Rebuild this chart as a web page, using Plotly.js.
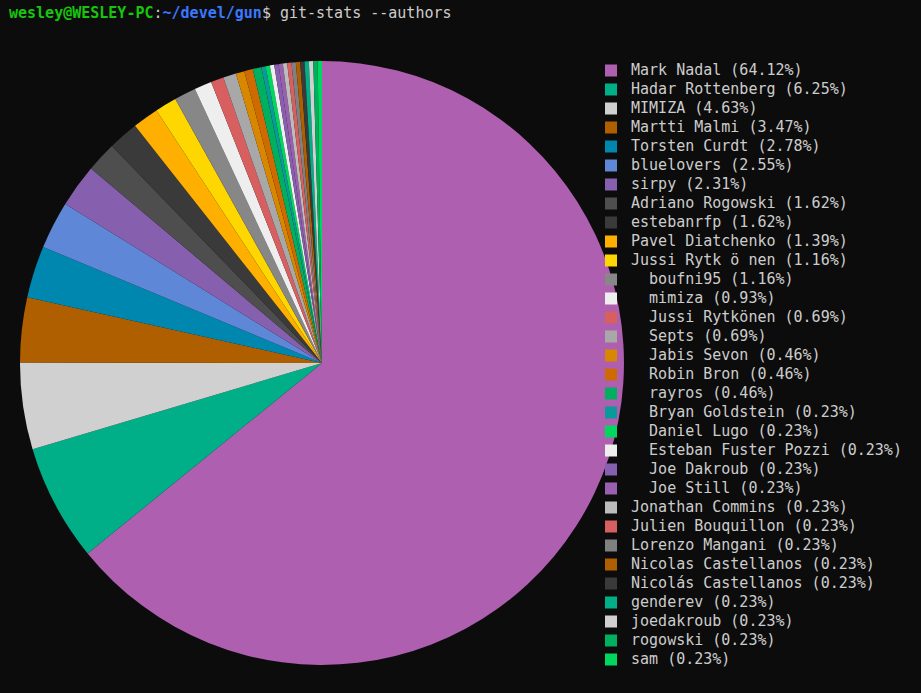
<!DOCTYPE html>
<html>
<head>
<meta charset="utf-8">
<script src="https://cdn.plot.ly/plotly-3.0.1.min.js"></script>
<style>
html,body{margin:0;padding:0;background:#0C0C0C;}
#chart{width:921px;height:693px;}
</style>
</head>
<body>
<div id="chart"></div>
<script>
// Authors (in pie order, clockwise from 12 o'clock)
const authors = [
  "Mark Nadal", "Hadar Rottenberg", "MIMIZA", "Martti Malmi", "Torsten Curdt",
  "bluelovers", "sirpy", "Adriano Rogowski", "estebanrfp", "Pavel Diatchenko",
  "Jussi Rytk ö nen", "boufni95", "mimiza", "Jussi Rytkönen", "Septs",
  "Jabis Sevon", "Robin Bron", "rayros", "Bryan Goldstein", "Daniel Lugo",
  "Esteban Fuster Pozzi", "Joe Dakroub", "Joe Still", "Jonathan Commins",
  "Julien Bouquillon", "Lorenzo Mangani", "Nicolas Castellanos", "Nicolás Castellanos",
  "genderev", "joedakroub", "rogowski", "sam"
];
// Share of commits (%)
const shares = [
  64.12, 6.25, 4.63, 3.47, 2.78,
  2.55, 2.31, 1.62, 1.62, 1.39,
  1.16, 1.16, 0.93, 0.69, 0.69,
  0.46, 0.46, 0.46, 0.23, 0.23,
  0.23, 0.23, 0.23, 0.23,
  0.23, 0.23, 0.23, 0.23,
  0.23, 0.23, 0.23, 0.23
];
// Legend lines drawn indented in the terminal output
const indented = [
  "boufni95", "mimiza", "Jussi Rytkönen", "Septs", "Jabis Sevon", "Robin Bron",
  "rayros", "Bryan Goldstein", "Daniel Lugo", "Esteban Fuster Pozzi", "Joe Dakroub", "Joe Still"
];
const sliceColors = [
  "#AF5FAF", "#00AF87", "#D0D0D0", "#AF5F00", "#0087AF",
  "#5F87D7", "#875FAF", "#4E4E4E", "#3A3A3A", "#FFAF00",
  "#FFD700", "#878787", "#EEEEEE", "#D75F5F", "#A8A8A8",
  "#D78700", "#CF6A00", "#00AF5F", "#0A9A9A", "#00D75F",
  "#EEEEEE", "#875FAF", "#9B5FAF", "#BCBCBC",
  "#D75F5F", "#808080", "#AF5F00", "#3A3A3A",
  "#00AF87", "#D0D0D0", "#00AF5F", "#00D75F"
];

const labels = authors.map((a, i) =>
  '<span style="font-size:15px">' + (indented.includes(a) ? '\u00A0\u00A0' : '') +
  a + ' (' + shares[i].toFixed(2) + '%)</span>');

const trace = {
  type: 'pie',
  labels: labels,
  values: shares,
  sort: false,
  direction: 'clockwise',
  rotation: 0,
  textinfo: 'none',
  hoverinfo: 'label',
  marker: { colors: sliceColors, line: { width: 0 } },
  domain: { x: [0.0217, 0.6775], y: [0.0404, 0.912] }
};

const layout = {
  width: 921, height: 693,
  paper_bgcolor: '#0C0C0C',
  plot_bgcolor: '#0C0C0C',
  margin: { l: 0, r: 0, t: 0, b: 0 },
  showlegend: true,
  legend: {
    x: 0.6417, y: 0.9192, xanchor: 'left', yanchor: 'top',
    bgcolor: 'rgba(0,0,0,0)',
    font: { family: 'DejaVu Sans Mono, monospace', size: 12.3, color: '#CCCCCC' },
    traceorder: 'normal'
  },
  annotations: [{
    xref: 'paper', yref: 'paper', x: 0.0076, y: 1, xanchor: 'left', yanchor: 'top',
    yshift: -2,
    showarrow: false,
    font: { family: 'DejaVu Sans Mono, monospace', size: 15, color: '#CCCCCC' },
    text: '<b><span style="color:#16C60C">wesley@WESLEY-PC</span></b>:<b><span style="color:#3B78FF">~/devel/gun</span></b>$ git-stats --authors'
  }]
};

Plotly.newPlot('chart', [trace], layout, { displayModeBar: false, staticPlot: true });
</script>
</body>
</html>
